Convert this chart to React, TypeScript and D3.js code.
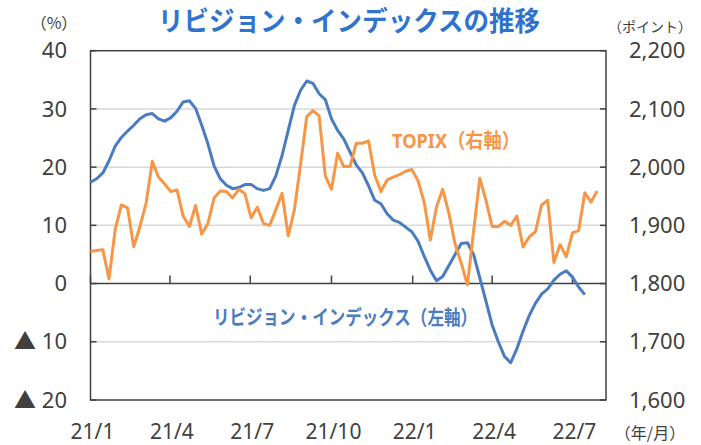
import React, { useEffect, useRef } from "react";
import * as d3 from "d3";

// weekly data from 2021/1 (TOPIX close, right axis / revision index %, left axis)
const topix = [
  1855, 1857, 1858, 1808, 1893, 1935, 1930, 1863, 1898, 1938, 2010, 1983, 1971,
  1958, 1961, 1916, 1898, 1934, 1885, 1903, 1947, 1959, 1958, 1947, 1962, 1954,
  1913, 1931, 1903, 1900, 1927, 1955, 1882, 1927, 2005, 2087, 2097, 2088, 1985,
  1962, 2024, 2001, 2001, 2041, 2041, 2045, 1986, 1958, 1978, 1983, 1987, 1993,
  1996, 1977, 1940, 1875, 1932, 1962, 1921, 1868, 1835, 1798, 1890, 1981, 1943,
  1898, 1898, 1907, 1900, 1916, 1863, 1880, 1889, 1935, 1943, 1836, 1867, 1846,
  1887, 1891, 1956, 1940, 1959,
];
const revision = [
  17.4, 18.0, 19.0, 21.1, 23.6, 25.1, 26.2, 27.2, 28.3, 29.0, 29.2, 28.3, 27.9,
  28.5, 29.6, 31.2, 31.4, 30.1, 27.2, 24.0, 20.2, 18.0, 16.9, 16.3, 16.5, 17.0,
  17.0, 16.3, 16.0, 16.3, 18.5, 22.0, 26.3, 30.6, 33.2, 34.8, 34.4, 32.6, 31.6,
  28.3, 26.3, 24.8, 22.6, 20.4, 19.0, 16.8, 14.3, 13.7, 12.0, 10.9, 10.5, 9.7,
  8.9, 7.3, 4.7, 2.3, 0.5, 1.2, 3.1, 5.0, 6.9, 7.0, 5.0, 1.0, -3.0, -7.1, -10.0,
  -12.5, -13.6, -11.2, -8.2, -5.5, -3.4, -1.8, -0.9, 0.6, 1.6, 2.2, 1.1, -0.6,
  -1.9,
];
const leftTicks = [40, 30, 20, 10, 0, -10, -20];
const rightTicks = [2200, 2100, 2000, 1900, 1800, 1700, 1600];
const xTickLabels = ["21/1", "21/4", "21/7", "21/10", "22/1", "22/4", "22/7"];
const xTickDates = [
  new Date(2021, 0, 1), new Date(2021, 3, 1), new Date(2021, 6, 1),
  new Date(2021, 9, 1), new Date(2022, 0, 1), new Date(2022, 3, 1),
  new Date(2022, 6, 1),
];

const FONT = "'Noto Sans', 'Noto Sans CJK JP', sans-serif";
const JP = "'Noto Sans CJK JP', sans-serif";

export default function App() {
  const ref = useRef<SVGSVGElement>(null);

  useEffect(() => {
    const svg = d3.select(ref.current);
    svg.selectAll("*").remove();

    const start = new Date(2021, 0, 1);
    const dates = d3.range(topix.length).map((i) => d3.timeDay.offset(start, i * 7));

    const left = 90.5, right = 606, top = 50.7, bottom = 400;
    const x = d3.scaleTime().domain([start, new Date(2022, 7, 8)]).range([left, right]);
    const yL = d3.scaleLinear().domain([-20, 40]).range([bottom, top]);
    const yR = d3.scaleLinear().domain([1600, 2200]).range([bottom, top]);

    // gridlines
    svg.append("g")
      .selectAll("line")
      .data([30, 20, 10, -10])
      .join("line")
      .attr("x1", left).attr("x2", right)
      .attr("y1", (d) => yL(d)).attr("y2", (d) => yL(d))
      .attr("stroke", "#d9d9d9").attr("stroke-width", 1.5);

    // plot box
    svg.append("rect")
      .attr("x", left).attr("y", top)
      .attr("width", right - left).attr("height", bottom - top)
      .attr("fill", "none").attr("stroke", "#404040").attr("stroke-width", 1.5);

    // zero line
    svg.append("line")
      .attr("x1", left).attr("x2", right)
      .attr("y1", yL(0)).attr("y2", yL(0))
      .attr("stroke", "#404040").attr("stroke-width", 1.5);

    // axis ticks
    svg.append("g").selectAll("line").data(leftTicks).join("line")
      .attr("x1", left).attr("x2", left + 6)
      .attr("y1", (d) => yL(d)).attr("y2", (d) => yL(d))
      .attr("stroke", "#404040").attr("stroke-width", 1.5);
    svg.append("g").selectAll("line").data(rightTicks).join("line")
      .attr("x1", right - 6).attr("x2", right)
      .attr("y1", (d) => yR(d)).attr("y2", (d) => yR(d))
      .attr("stroke", "#404040").attr("stroke-width", 1.5);
    svg.append("g").selectAll("line").data(xTickDates).join("line")
      .attr("x1", (d) => x(d)).attr("x2", (d) => x(d))
      .attr("y1", yL(0) - 8).attr("y2", yL(0))
      .attr("stroke", "#404040").attr("stroke-width", 1.5);

    // tick labels
    svg.append("g").selectAll("text").data(leftTicks).join("text")
      .attr("x", 67).attr("y", (d) => yL(d))
      .attr("dy", "0.35em").attr("text-anchor", "end")
      .attr("font-family", FONT).attr("font-size", 22).attr("fill", "#404040")
      .text((d) => (d < 0 ? "▲ " + Math.abs(d) : String(d)));
    svg.append("g").selectAll("text").data(rightTicks).join("text")
      .attr("x", 629).attr("y", (d) => yR(d))
      .attr("dy", "0.35em")
      .attr("font-family", FONT).attr("font-size", 22).attr("fill", "#404040")
      .text((d) => d3.format(",")(d));
    svg.append("g").selectAll("text").data(xTickDates).join("text")
      .attr("x", (d) => x(d) + 2).attr("y", 432)
      .attr("dy", "0.35em").attr("text-anchor", "middle")
      .attr("font-family", FONT).attr("font-size", 21).attr("fill", "#404040")
      .text((d, i) => xTickLabels[i]);

    // unit labels
    svg.append("text").attr("x", 54).attr("y", 23).attr("dy", "0.35em")
      .attr("text-anchor", "middle").attr("font-family", JP).attr("font-size", 16)
      .attr("fill", "#404040").text("（%）");
    svg.append("text").attr("x", 650).attr("y", 27).attr("dy", "0.35em")
      .attr("text-anchor", "middle").attr("font-family", JP).attr("font-size", 14)
      .attr("fill", "#404040").text("（ポイント）");
    svg.append("text").attr("x", 650).attr("y", 433).attr("dy", "0.35em")
      .attr("text-anchor", "middle").attr("font-family", JP).attr("font-size", 16)
      .attr("fill", "#404040").text("（年/月）");

    // lines
    svg.append("path")
      .datum(revision)
      .attr("fill", "none").attr("stroke", "#4a7cc0").attr("stroke-width", 3)
      .attr("stroke-linejoin", "round")
      .attr("d", d3.line<number>().x((d, i) => x(dates[i])).y((d) => yL(d)));
    svg.append("path")
      .datum(topix)
      .attr("fill", "none").attr("stroke", "#f79646").attr("stroke-width", 3)
      .attr("stroke-linejoin", "round")
      .attr("d", d3.line<number>().x((d, i) => x(dates[i])).y((d) => yR(d)));

    // series labels
    svg.append("text").attr("x", 392).attr("y", 141).attr("dy", "0.35em")
      .attr("font-family", FONT).attr("font-weight", "bold").attr("font-size", 20)
      .attr("textLength", 128).attr("lengthAdjust", "spacingAndGlyphs")
      .attr("fill", "#f79646").text("TOPIX（右軸）");
    svg.append("text").attr("x", 213).attr("y", 318).attr("dy", "0.35em")
      .attr("font-family", JP).attr("font-weight", "bold").attr("font-size", 20)
      .attr("textLength", 264).attr("lengthAdjust", "spacingAndGlyphs")
      .attr("fill", "#4a7cc0").text("リビジョン・インデックス（左軸）");

    // title
    svg.append("text").attr("x", 158).attr("y", 22).attr("dy", "0.35em")
      .attr("font-family", JP).attr("font-weight", "bold").attr("font-size", 27)
      .attr("textLength", 382).attr("lengthAdjust", "spacingAndGlyphs")
      .attr("fill", "#2f72d0").text("リビジョン・インデックスの推移");
  }, []);

  return (
    <svg
      ref={ref}
      width={701}
      height={445}
      style={{ position: "absolute", left: 0, top: 0, background: "#fff" }}
    />
  );
}
